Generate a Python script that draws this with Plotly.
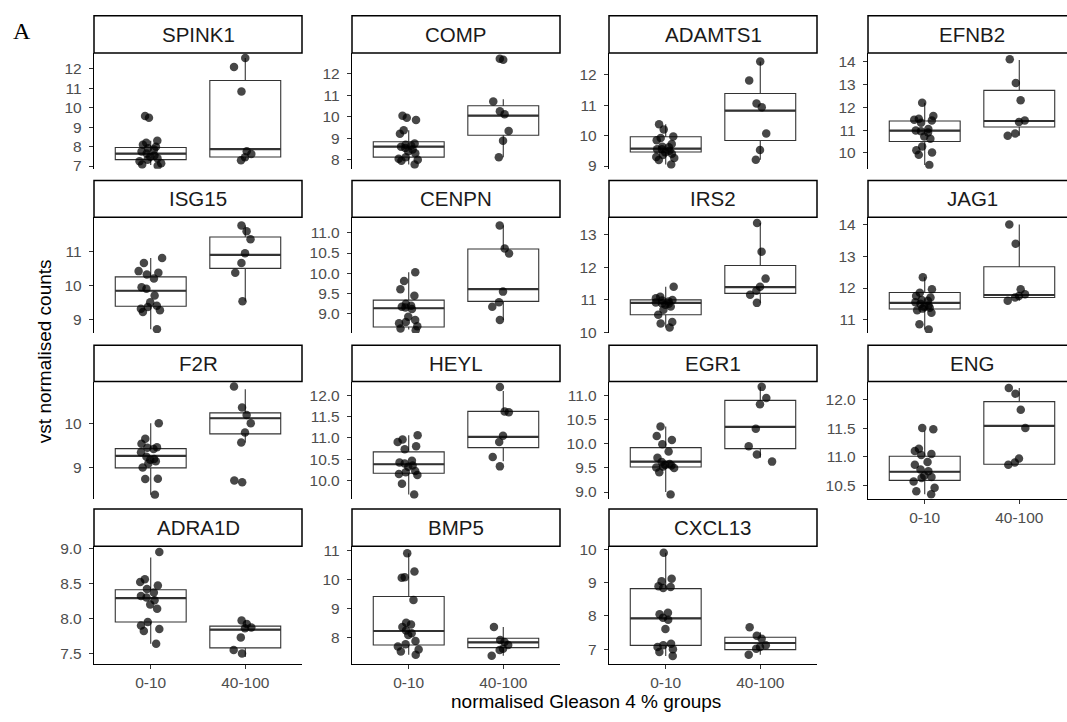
import plotly.graph_objects as go

# ---------------- data ----------------
genes = ["SPINK1", "COMP", "ADAMTS1", "EFNB2", "ISG15", "CENPN", "IRS2", "JAG1",
         "F2R", "HEYL", "EGR1", "ENG", "ADRA1D", "BMP5", "CXCL13"]
groups = ["0-10", "40-100"]

SPINK1_low = [9.49, 9.58, 8.30, 8.20, 8.10, 8.00, 7.92, 7.85, 7.75, 7.65, 7.55, 7.48, 7.40, 7.32, 7.25, 7.15, 7.08, 7.02]
SPINK1_high = [12.56, 12.10, 10.84, 7.76, 7.62, 7.45, 7.30]
COMP_low = [10.05, 9.95, 9.85, 9.37, 9.21, 8.75, 8.70, 8.65, 8.60, 8.55, 8.48, 8.40, 8.30, 8.12, 8.05, 8.00, 7.95, 7.78]
COMP_high = [12.70, 12.65, 10.71, 10.25, 10.11, 9.34, 8.88, 8.12]
ADAMTS1_low = [10.37, 10.20, 9.97, 9.92, 9.85, 9.72, 9.63, 9.55, 9.50, 9.45, 9.40, 9.36, 9.30, 9.26, 9.20, 9.05, 9.55, 9.62]
ADAMTS1_high = [12.43, 11.81, 11.05, 10.93, 10.07, 9.53, 9.21]
EFNB2_low = [12.20, 11.62, 11.50, 11.42, 11.32, 11.05, 10.98, 10.90, 10.72, 10.62, 10.28, 10.12, 10.02, 9.92, 9.47, 11.45, 10.95]
EFNB2_high = [14.10, 13.06, 12.31, 11.42, 11.36, 10.85, 10.75]
ISG15_low = [10.81, 10.66, 10.42, 10.37, 10.32, 10.20, 9.94, 9.90, 9.70, 9.50, 9.40, 9.36, 9.31, 9.26, 9.21, 8.70]
ISG15_high = [11.77, 11.60, 11.36, 10.95, 10.66, 10.37, 9.53]
CENPN_low = [10.03, 9.81, 9.61, 9.45, 9.25, 9.20, 9.16, 9.12, 8.93, 8.85, 8.80, 8.77, 8.70, 8.64, 8.60, 9.18]
CENPN_high = [11.18, 10.61, 10.49, 9.55, 9.29, 9.18, 8.85]
IRS2_low = [11.40, 11.10, 11.05, 11.00, 10.95, 10.92, 10.90, 10.85, 10.80, 10.70, 10.55, 10.33, 10.28, 10.16, 10.98, 10.88]
IRS2_high = [13.35, 12.47, 11.65, 11.40, 11.28, 11.16, 10.91]
JAG1_low = [12.34, 11.96, 11.85, 11.75, 11.70, 11.62, 11.55, 11.50, 11.45, 11.40, 11.35, 11.30, 11.22, 10.86, 10.69, 11.60, 11.38]
JAG1_high = [14.00, 13.40, 11.96, 11.80, 11.75, 11.70, 11.60]
F2R_low = [10.00, 9.65, 9.54, 9.46, 9.42, 9.35, 9.25, 9.18, 9.15, 9.10, 9.01, 8.76, 8.75, 8.40, 9.45, 9.20]
F2R_high = [10.82, 10.35, 10.18, 10.00, 9.79, 9.57, 8.72, 8.68]
HEYL_low = [11.06, 10.96, 10.90, 10.80, 10.73, 10.46, 10.40, 10.35, 10.32, 10.22, 10.19, 10.13, 9.92, 9.67, 10.42, 10.15]
HEYL_high = [12.19, 11.62, 11.60, 11.05, 10.90, 10.55, 10.33]
EGR1_low = [10.36, 10.16, 9.99, 9.84, 9.71, 9.62, 9.58, 9.55, 9.53, 9.51, 9.41, 8.95, 10.08, 9.56, 9.50]
EGR1_high = [11.18, 10.95, 10.82, 10.31, 9.95, 9.78, 9.63]
ENG_low = [11.50, 11.48, 11.14, 11.05, 11.03, 10.91, 10.86, 10.78, 10.67, 10.65, 10.63, 10.57, 10.46, 10.40, 10.35, 10.75, 11.10]
ENG_high = [12.20, 12.10, 11.82, 11.50, 10.97, 10.90, 10.86]
ADRA1D_low = [8.95, 8.56, 8.52, 8.47, 8.42, 8.37, 8.32, 8.26, 8.20, 8.14, 7.95, 7.90, 7.85, 7.82, 7.64, 8.30]
ADRA1D_high = [7.97, 7.92, 7.87, 7.86, 7.73, 7.55, 7.50]
BMP5_low = [10.89, 10.27, 10.07, 10.05, 9.29, 8.51, 8.45, 8.37, 8.15, 8.09, 7.89, 7.78, 7.70, 7.53, 7.42, 8.25, 7.60]
BMP5_high = [8.37, 7.92, 7.85, 7.75, 7.62, 7.58, 7.38]
CXCL13_low = [9.90, 9.12, 9.04, 8.89, 8.87, 8.84, 8.10, 8.05, 7.95, 7.89, 7.61, 7.17, 7.12, 7.07, 7.00, 6.92, 6.80]
CXCL13_high = [7.66, 7.41, 7.32, 7.12, 7.07, 7.02, 6.84]

low_points = [SPINK1_low, COMP_low, ADAMTS1_low, EFNB2_low, ISG15_low, CENPN_low, IRS2_low, JAG1_low,
              F2R_low, HEYL_low, EGR1_low, ENG_low, ADRA1D_low, BMP5_low, CXCL13_low]
high_points = [SPINK1_high, COMP_high, ADAMTS1_high, EFNB2_high, ISG15_high, CENPN_high, IRS2_high, JAG1_high,
               F2R_high, HEYL_high, EGR1_high, ENG_high, ADRA1D_high, BMP5_high, CXCL13_high]

# box statistics, group 0-10
q1_low = [7.33, 8.12, 9.46, 10.50, 9.38, 8.68, 10.55, 11.34, 9.00, 10.17, 9.52, 10.59, 7.95, 7.75, 7.12]
med_low = [7.64, 8.61, 9.57, 10.98, 9.84, 9.14, 10.91, 11.53, 9.27, 10.38, 9.63, 10.74, 8.29, 8.23, 7.93]
q3_low = [7.96, 8.84, 9.96, 11.40, 10.25, 9.34, 11.00, 11.86, 9.43, 10.67, 9.92, 11.01, 8.41, 9.41, 8.82]
wlo_low = [7.05, 7.78, 9.05, 9.47, 8.70, 8.62, 10.16, 10.69, 8.40, 9.67, 9.00, 10.35, 7.64, 7.42, 6.80]
whi_low = [8.30, 9.37, 10.37, 12.20, 10.81, 10.03, 11.40, 12.34, 10.00, 11.06, 10.36, 11.46, 8.87, 10.89, 9.90]
# box statistics, group 40-100
q1_high = [7.47, 9.14, 9.84, 11.14, 10.50, 9.31, 11.20, 11.70, 9.76, 10.77, 9.90, 10.87, 7.58, 7.66, 6.99]
med_high = [7.87, 10.05, 10.82, 11.40, 10.90, 9.61, 11.39, 11.78, 10.11, 11.02, 10.35, 11.54, 7.84, 7.84, 7.19]
q3_high = [11.41, 10.51, 11.38, 12.74, 11.43, 10.60, 12.05, 12.67, 10.23, 11.62, 10.90, 11.96, 7.89, 7.98, 7.36]
wlo_high = [7.30, 8.12, 9.21, 10.75, 9.53, 8.85, 10.91, 11.60, 9.57, 10.45, 9.71, 10.86, 7.45, 7.38, 6.84]
whi_high = [12.56, 10.81, 12.43, 14.07, 11.77, 11.18, 13.35, 14.00, 10.76, 12.10, 11.18, 12.20, 7.97, 8.37, 7.51]

# free y scales
y_lo = [6.86, 7.58, 8.91, 9.31, 8.59, 8.53, 9.99, 10.58, 8.31, 9.57, 8.86, 10.27, 7.35, 7.10, 6.56]
y_hi = [12.82, 12.96, 12.71, 14.37, 12.01, 11.38, 13.52, 14.23, 10.93, 12.32, 11.29, 12.31, 9.03, 11.13, 10.09]
tick_text = [
    ["7", "8", "9", "10", "11", "12"],
    ["8", "9", "10", "11", "12"],
    ["9", "10", "11", "12"],
    ["10", "11", "12", "13", "14"],
    ["9", "10", "11"],
    ["8.5", "9.0", "9.5", "10.0", "10.5", "11.0"],
    ["10", "11", "12", "13"],
    ["11", "12", "13", "14"],
    ["9", "10"],
    ["10.0", "10.5", "11.0", "11.5", "12.0"],
    ["9.0", "9.5", "10.0", "10.5", "11.0"],
    ["10.5", "11.0", "11.5", "12.0"],
    ["7.5", "8.0", "8.5", "9.0"],
    ["8", "9", "10", "11"],
    ["7", "8", "9", "10"],
]

# ---------------- layout geometry (pixels) ----------------
W, H = 1067, 722
col_left = [94, 352, 609, 868]
panel_w = 208
strip_top = [10, 178, 346, 513]
panel_top = [48, 215.5, 383, 551]
panel_bot = [166, 333.5, 502.5, 671]


def px(s):
    return s / W


def py(s):
    return 1 - s / H


FONT = "Liberation Sans, Arial, sans-serif"
BOXLINE = "#333333"

fig = go.Figure()
layout_axes = {}
shapes = []
annotations = []

for i, gene in enumerate(genes):
    r, c = divmod(i, 4)
    sfx = "" if i == 0 else str(i + 1)
    xa, ya = "x" + sfx, "y" + sfx

    # box body
    fig.add_trace(go.Box(
        x=groups, q1=[q1_low[i], q1_high[i]], median=[med_low[i], med_high[i]],
        q3=[q3_low[i], q3_high[i]], lowerfence=[wlo_low[i], wlo_high[i]],
        upperfence=[whi_low[i], whi_high[i]],
        width=0.75, whiskerwidth=0, boxpoints=False, fillcolor="white",
        line=dict(color=BOXLINE, width=1.1), xaxis=xa, yaxis=ya,
        showlegend=False, hoverinfo="skip"))
    # thicker median line
    fig.add_trace(go.Box(
        x=groups, q1=[med_low[i], med_high[i]], median=[med_low[i], med_high[i]],
        q3=[med_low[i], med_high[i]], lowerfence=[med_low[i], med_high[i]],
        upperfence=[med_low[i], med_high[i]],
        width=0.75, whiskerwidth=0, boxpoints=False, fillcolor="rgba(0,0,0,0)",
        line=dict(color=BOXLINE, width=2.2), xaxis=xa, yaxis=ya,
        showlegend=False, hoverinfo="skip"))
    # jittered points
    lo, hi = low_points[i], high_points[i]
    fig.add_trace(go.Box(
        x=[groups[0]] * len(lo) + [groups[1]] * len(hi), y=lo + hi,
        boxpoints="all", jitter=0.38, pointpos=0, width=0.75,
        fillcolor="rgba(0,0,0,0)", line=dict(width=0, color="rgba(0,0,0,0)"),
        marker=dict(color="rgba(0,0,0,0.72)", size=8.5, line=dict(width=0)),
        xaxis=xa, yaxis=ya, showlegend=False, hoveron="points"))

    left = col_left[c]
    right = min(left + panel_w, W)
    show_x = i >= 11
    layout_axes["xaxis" + sfx] = dict(
        domain=[px(left), px(right)], anchor=ya, type="category",
        categoryorder="array", categoryarray=groups,
        range=[-0.6, -0.6 + 2.2 * (right - left) / panel_w],
        showline=show_x, linecolor="black", linewidth=1.2,
        ticks="outside" if show_x else "", ticklen=4, tickwidth=1, tickcolor=BOXLINE,
        showticklabels=show_x, tickfont=dict(family=FONT, size=15.5, color="#4D4D4D"),
        showgrid=False, zeroline=False, fixedrange=True)
    layout_axes["yaxis" + sfx] = dict(
        domain=[py(panel_bot[r]), py(panel_top[r])], anchor=xa,
        range=[y_lo[i], y_hi[i]], tickmode="array",
        tickvals=[float(t) for t in tick_text[i]], ticktext=tick_text[i],
        showline=True, linecolor="black", linewidth=1.2,
        ticks="outside", ticklen=4, tickwidth=1, tickcolor=BOXLINE,
        tickfont=dict(family=FONT, size=15.5, color="#4D4D4D"),
        ticklabelstandoff=4,
        showgrid=False, zeroline=False, fixedrange=True)

    # facet strip
    shapes.append(dict(type="rect", xref="paper", yref="paper",
                       x0=px(left), x1=px(left + panel_w),
                       y0=py(panel_top[r]), y1=py(strip_top[r]),
                       line=dict(color="black", width=1.5), fillcolor="white", layer="above"))
    annotations.append(dict(text=gene, xref="paper", yref="paper",
                            x=px(left + panel_w / 2),
                            y=py((strip_top[r] + panel_top[r]) / 2),
                            xanchor="center", yanchor="middle", showarrow=False,
                            font=dict(family=FONT, size=20.5, color="#1A1A1A")))

annotations.append(dict(text="normalised Gleason 4 % groups", xref="paper", yref="paper",
                        x=px(586), y=py(709), xanchor="center", yanchor="middle",
                        showarrow=False, font=dict(family=FONT, size=19, color="black")))
annotations.append(dict(text="vst normalised counts", xref="paper", yref="paper",
                        x=px(44), y=py(352), xanchor="center", yanchor="middle",
                        textangle=-90, showarrow=False,
                        font=dict(family=FONT, size=19, color="black")))
annotations.append(dict(text="A", xref="paper", yref="paper",
                        x=px(22), y=py(25), xanchor="center", yanchor="middle",
                        showarrow=False,
                        font=dict(family="Liberation Serif, Times New Roman, serif", size=24, color="black")))

fig.update_layout(
    width=W, height=H, margin=dict(l=0, r=0, t=0, b=0),
    plot_bgcolor="white", paper_bgcolor="white", showlegend=False,
    boxmode="overlay", hovermode=False,
    shapes=shapes, annotations=annotations, **layout_axes)

# the figure fills the browser window exactly: drop the default 8 px page margin
fig.write_html("out.html",
               config={"displayModeBar": False, "staticPlot": True},
               post_script="document.body.style.margin='0px';"
                           "document.documentElement.style.overflow='hidden';")
